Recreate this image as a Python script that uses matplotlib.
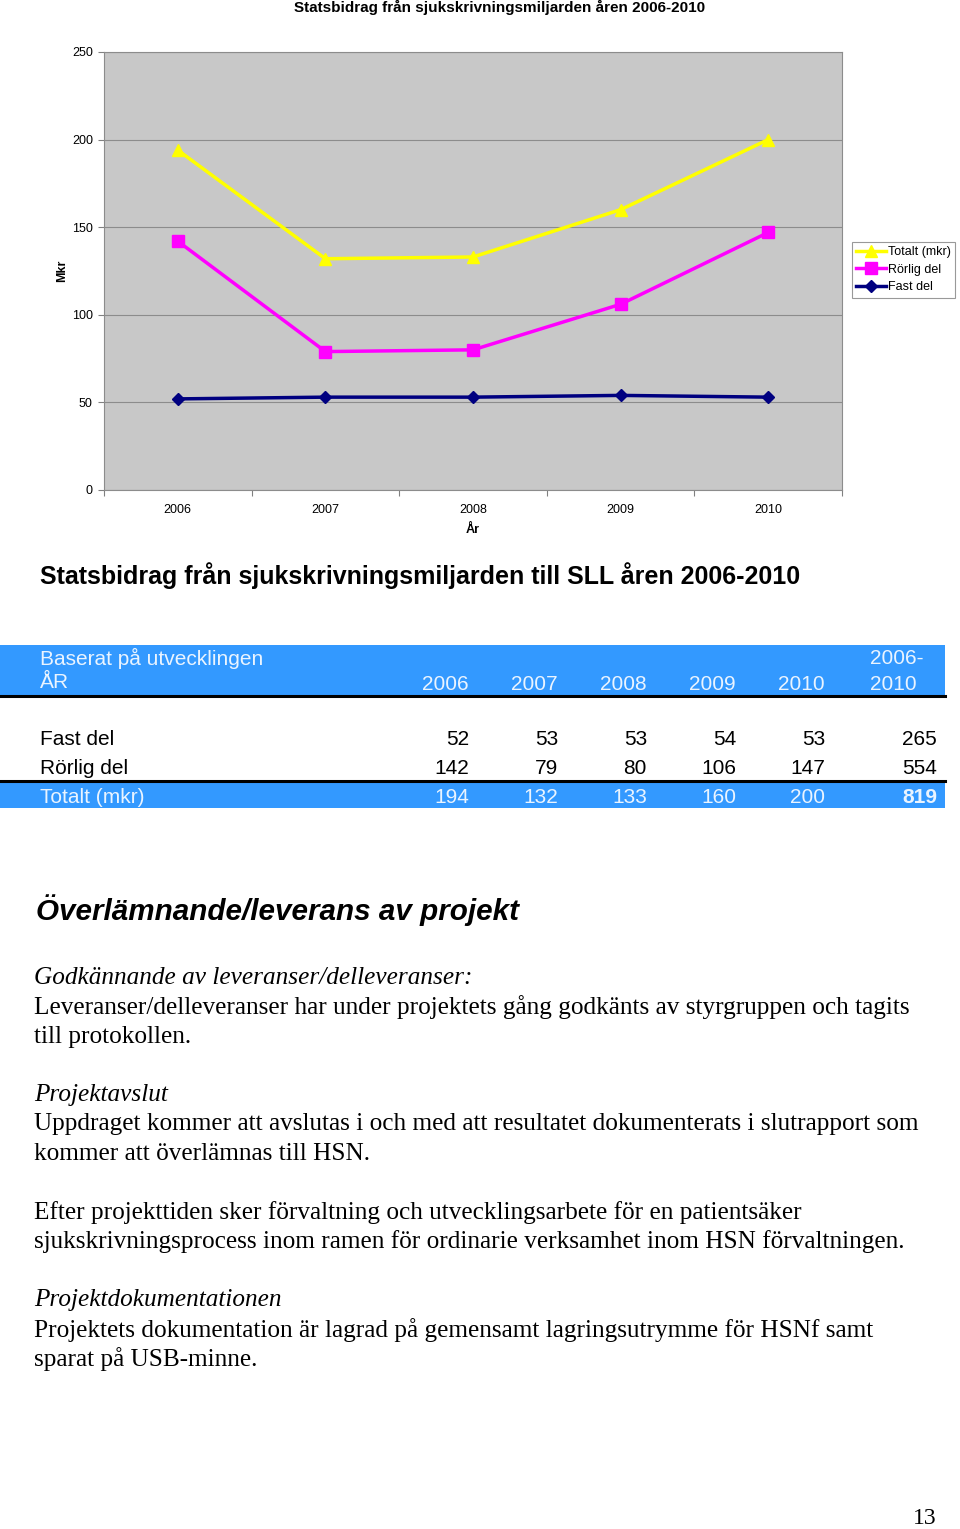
import matplotlib
matplotlib.use('Agg')
import matplotlib.pyplot as plt
from matplotlib.patches import Rectangle

W, H = 960, 1529

years = ['2006', '2007', '2008', '2009', '2010']
fast_del = [52, 53, 53, 54, 53]
rorlig_del = [142, 79, 80, 106, 147]
totalt = [194, 132, 133, 160, 200]
row_sums = [265, 554, 819]
y_ticks = [0, 50, 100, 150, 200, 250]

body_lines = [
    ('Godkännande av leveranser/delleveranser:', 'italic'),
    ('Leveranser/delleveranser har under projektets gång godkänts av styrgruppen och tagits', 'normal'),
    ('till protokollen.', 'normal'),
    (None, None),
    ('Projektavslut', 'italic'),
    ('Uppdraget kommer att avslutas i och med att resultatet dokumenterats i slutrapport som', 'normal'),
    ('kommer att överlämnas till HSN.', 'normal'),
    (None, None),
    ('Efter projekttiden sker förvaltning och utvecklingsarbete för en patientsäker', 'normal'),
    ('sjukskrivningsprocess inom ramen för ordinarie verksamhet inom HSN förvaltningen.', 'normal'),
    (None, None),
    ('Projektdokumentationen', 'italic'),
    ('Projektets dokumentation är lagrad på gemensamt lagringsutrymme för HSNf samt', 'normal'),
    ('sparat på USB-minne.', 'normal'),
]


def fx(px):
    return px / W


def fy(py):
    return 1 - py / H


def ptext(x, y, s, **kw):
    kw.setdefault('va', 'center')
    kw.setdefault('family', 'Liberation Sans')
    fig.text(fx(x), fy(y), s, **kw)


def band(y0, y1, x0=0, x1=945, color='#3399ff'):
    fig.add_artist(Rectangle((fx(x0), fy(y1)), fx(x1) - fx(x0), fy(y0) - fy(y1),
                             transform=fig.transFigure, color=color, lw=0))


fig = plt.figure(figsize=(W / 100, H / 100), dpi=100)

# ~~~~~~~~ chart ~~~~~~~~
ax = fig.add_axes([fx(104), fy(490), fx(842) - fx(104), fy(52) - fy(490)])
ax.set_facecolor('#c8c8c8')
x = range(len(years))
ax.plot(x, totalt, color='#ffff00', lw=2.5, marker='^', ms=9, label='Totalt (mkr)')
ax.plot(x, rorlig_del, color='#ff00ff', lw=2.5, marker='s', ms=8, label='Rörlig del')
ax.plot(x, fast_del, color='#000080', lw=2.5, marker='D', ms=6, label='Fast del')
ax.set_xlim(-0.5, len(years) - 0.5)
ax.set_ylim(0, 250)
ax.set_yticks(y_ticks)
ax.set_yticklabels([str(v) for v in y_ticks], fontsize=9, family='Liberation Sans')
ax.set_xticks([i - 0.5 for i in range(len(years) + 1)])
ax.set_xticklabels([])
ax.set_xticks(list(x), minor=True)
ax.set_xticklabels(years, minor=True, fontsize=9, family='Liberation Sans')
ax.tick_params(axis='x', which='minor', length=0, pad=10)
ax.tick_params(axis='x', which='major', length=4, color='#808080')
ax.tick_params(axis='y', length=4, color='#808080', pad=4)
ax.grid(axis='y', color='#8c8c8c', lw=0.8)
ax.set_axisbelow(True)
for s in ax.spines.values():
    s.set_color('#8c8c8c')
ax.set_xlabel('År', fontsize=9, fontweight='bold', family='Liberation Sans', labelpad=6)
ax.set_ylabel('Mkr', fontsize=9, fontweight='bold', family='Liberation Sans', labelpad=3)
leg = ax.legend(loc='upper left', bbox_to_anchor=(1.013, 0.567),
                prop={'family': 'Liberation Sans', 'size': 9},
                frameon=True, fancybox=False, edgecolor='#808080',
                handlelength=2.4, handletextpad=0.15, borderpad=0.35, labelspacing=0.45,
                borderaxespad=0)
leg.get_frame().set_linewidth(0.8)

ptext(500, 7, 'Statsbidrag från sjukskrivningsmiljarden åren 2006-2010',
      ha='center', fontsize=11, fontweight='bold')

# ~~~~~~~~ table ~~~~~~~~
ptext(40, 576, 'Statsbidrag från sjukskrivningsmiljarden till SLL åren 2006-2010',
      fontsize=18, fontweight='bold')

band(645, 695)
fig.add_artist(plt.Line2D([0, fx(945)], [fy(696), fy(696)], transform=fig.transFigure,
                          color='black', lw=2.2))
band(781, 808)
fig.add_artist(plt.Line2D([0, fx(945)], [fy(781), fy(781)], transform=fig.transFigure,
                          color='black', lw=2.2))

hdr = '#eaf4ff'
fs = 15
ptext(40, 658, 'Baserat på utvecklingen', fontsize=fs, color=hdr)
ptext(40, 683, 'ÅR', fontsize=fs, color=hdr)
col_x = [469, 558, 647, 736, 825]
for cx, yr in zip(col_x, years):
    ptext(cx, 685, yr, ha='right', fontsize=fs, color=hdr)
ptext(870, 659, '2006-', fontsize=fs, color=hdr)
ptext(870, 685, '2010', fontsize=fs, color=hdr)

rows = [('Fast del', fast_del, 740, 'black'),
        ('Rörlig del', rorlig_del, 768, 'black'),
        ('Totalt (mkr)', totalt, 797, hdr)]
for (name, vals, ry, col), tot in zip(rows, row_sums):
    ptext(40, ry, name, fontsize=fs, color=col)
    for cx, v in zip(col_x, vals):
        ptext(cx, ry, str(v), ha='right', fontsize=fs, color=col)
    ptext(937, ry, str(tot), ha='right', fontsize=fs, color=col,
          fontweight='bold' if name.startswith('Totalt') else 'normal')

# ~~~~~~~~ text ~~~~~~~~
ptext(36, 910, 'Överlämnande/leverans av projekt', fontsize=21.3,
      fontweight='bold', style='italic')

ly = 978
for line, st in body_lines:
    if line is not None:
        ptext(34, ly, line, fontsize=18.2, style=st, family='Liberation Serif')
    ly += 29.3

ptext(937, 1518, '13', ha='right', fontsize=17, family='Liberation Serif')

fig.savefig('out.png', dpi=100)
